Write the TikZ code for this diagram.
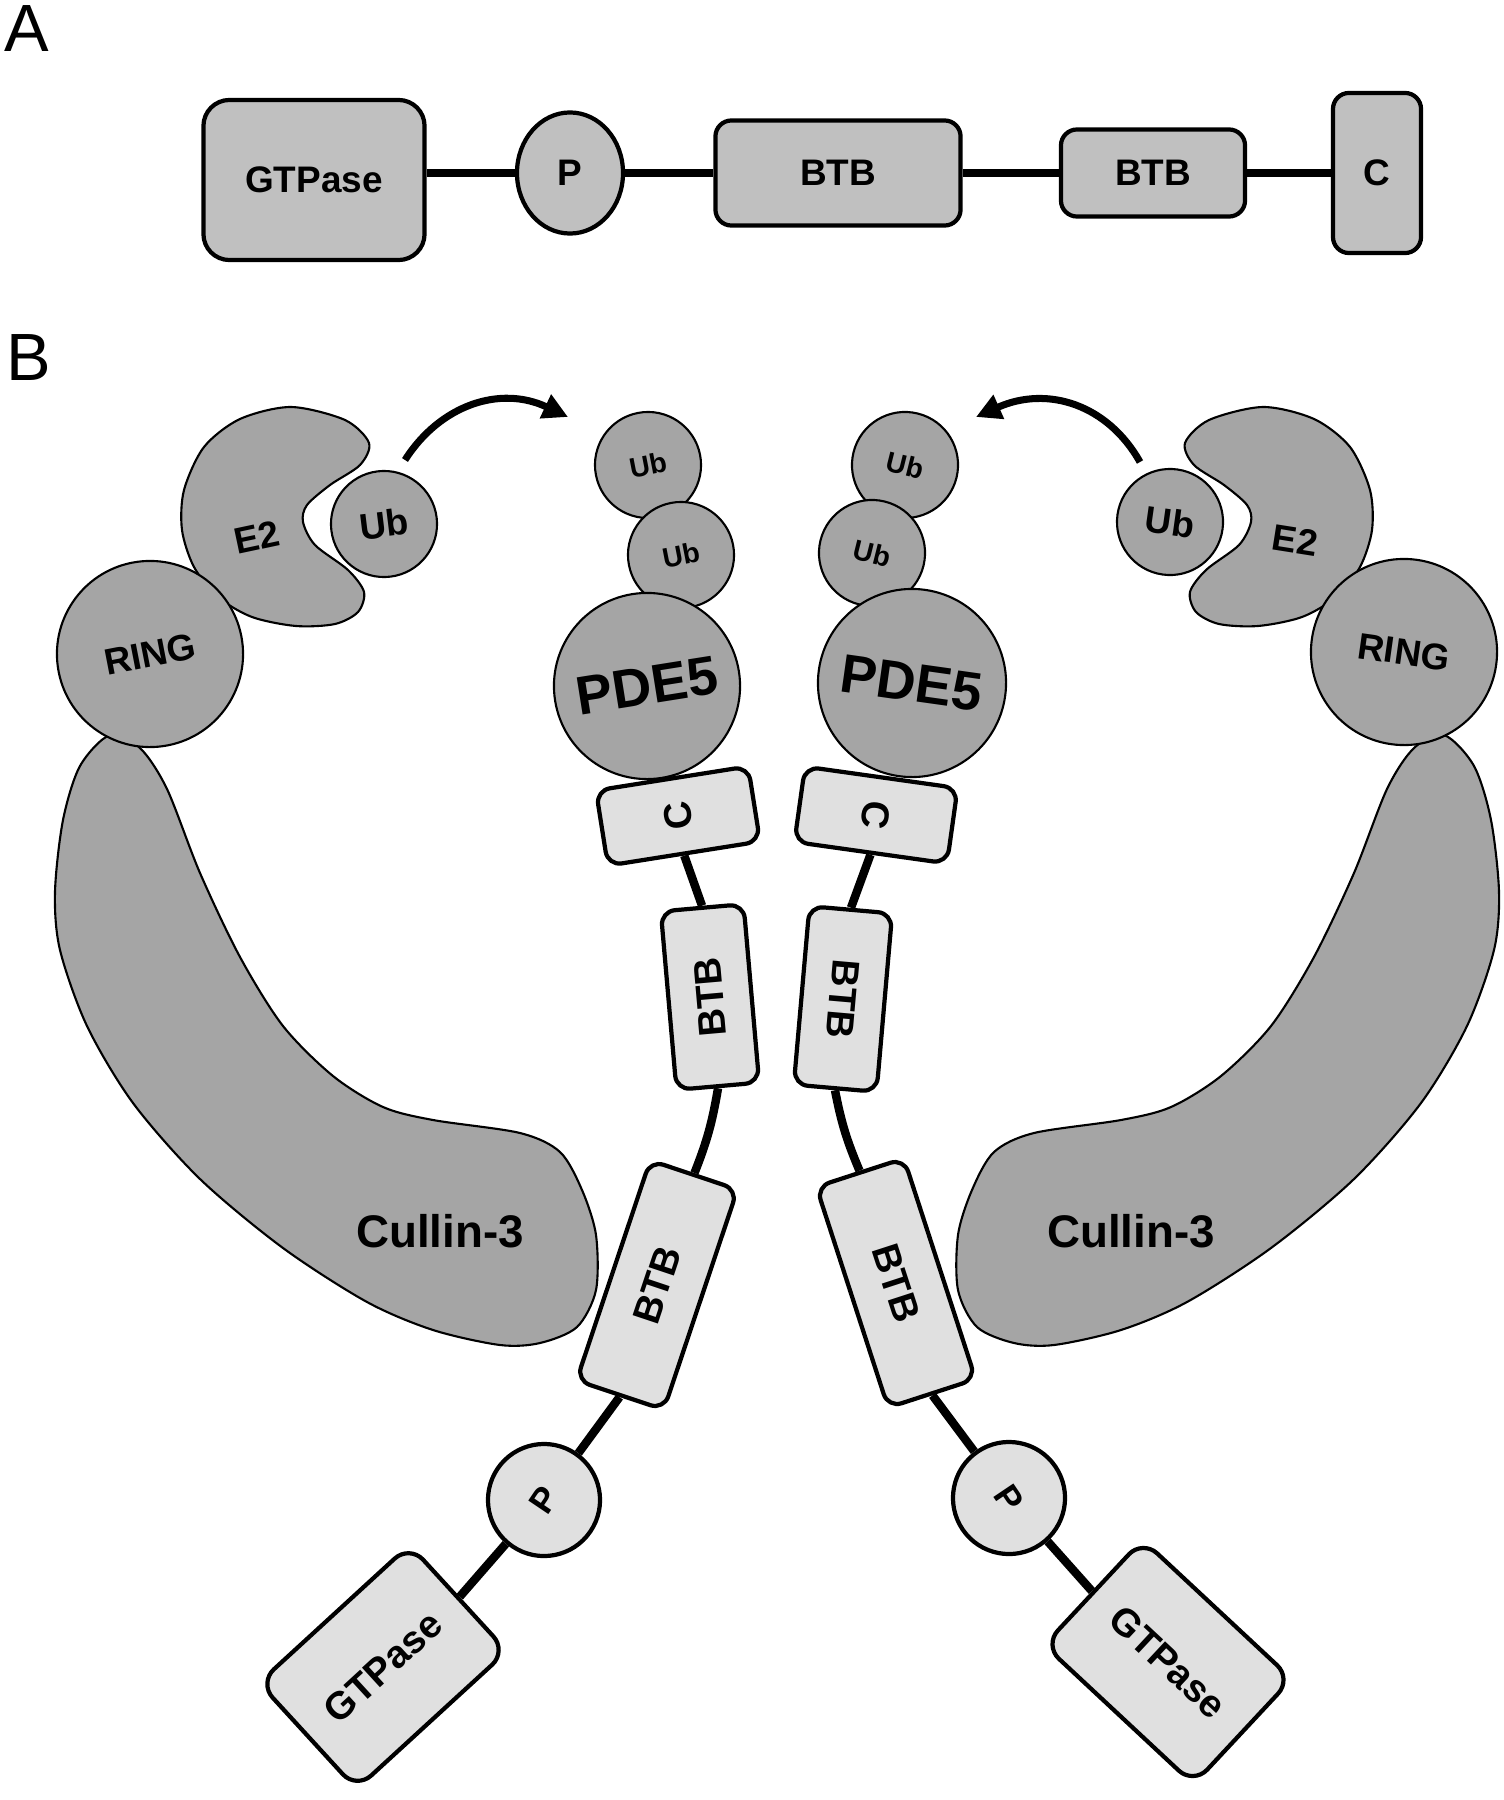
\documentclass[tikz,border=0pt]{standalone}
\usepackage{fontspec}
\setmainfont{Liberation Sans}
\usetikzlibrary{shapes.geometric,arrows.meta}

\definecolor{domfillA}{RGB}{192,192,192}
\definecolor{domfillB}{RGB}{224,224,224}
\definecolor{protgray}{RGB}{165,165,165}

\tikzset{
  domA/.style={draw, line width=1.2pt, fill=domfillA, rounded corners=1.6mm,
    inner sep=0pt, font=\bfseries\fontsize{10.5}{12}\selectfont},
  domB/.style={draw, line width=1.2pt, fill=domfillB, rounded corners=1.4mm,
    inner sep=0pt, font=\bfseries\fontsize{11}{13}\selectfont},
  blob/.style={draw, line width=0.6pt, fill=protgray},
  ball/.style={blob, circle, inner sep=0pt, font=\bfseries\fontsize{10.5}{12}\selectfont},
  link/.style={line width=2.4pt},
  panel/.style={font=\fontsize{19}{22}\selectfont},
  cullin/.pic={
    \draw[blob] plot[smooth cycle] coordinates {
      (110,735) (140,748) (167,789) (200,873) (240,957) (283,1026) (333,1076)
      (383,1107) (433,1120) (520,1133) (560,1152) (582,1190) (596,1235)
      (596,1290) (577,1327) (540,1343) (500,1345) (433,1330) (367,1302)
      (283,1248) (200,1179) (133,1103) (87,1026) (60,950) (55,892) (63,820) (80,766)};
  },
  etwo/.pic={
    \draw[blob] plot[smooth cycle] coordinates {
      (291,407) (345,420) (369,443) (360,465) (330,485) (307,505) (303,522)
      (315,545) (348,570) (364,592) (358,612) (335,624) (296,626) (252,617)
      (218,597) (194,567) (182,530) (184,490) (204,447) (240,419)};
  },
}

\begin{document}
\begin{tikzpicture}[x=0.01cm, y=-0.01cm]
\useasboundingbox (0,0) rectangle (1504,1800);

% panel A: domain layout
\node[panel] (labA) at (27,29) {A};
\node[domA, rounded corners=2.6mm, minimum width=22.1mm, minimum height=16mm] (gtpA) at (314,180) {GTPase};
\node[domA, ellipse, minimum width=10.6mm, minimum height=12.1mm] (pA) at (570,173) {P};
\node[domA, minimum width=24.5mm, minimum height=10.5mm] (btbA1) at (838,173) {BTB};
\node[domA, minimum width=18.4mm, minimum height=8.7mm] (btbA2) at (1153,173) {BTB};
\node[domA, minimum width=8.8mm, minimum height=16mm] (cA) at (1377,173) {C};
\draw[link] (pA.west) -- (pA.west -| gtpA.east)
  (pA) -- (btbA1) (btbA1) -- (btbA2) (btbA2) -- (cA);

% panel B: the complex
\node[panel] (labB) at (29,358) {B};
\pic at (0,0) {cullin};
\pic[xscale=-1] at (1554,0) {cullin};
\pic at (0,0) {etwo};
\pic[xscale=-1] at (1554,0) {etwo};
\node[font=\bfseries\fontsize{13}{15}\selectfont] (culL) at (440,1231) {Cullin-3};
\node[font=\bfseries\fontsize{13}{15}\selectfont] (culR) at (1131,1231) {Cullin-3};
\node[font=\bfseries\fontsize{10.5}{12}\selectfont, rotate=12] (e2L) at (257,537) {E2};
\node[font=\bfseries\fontsize{10.5}{12}\selectfont, rotate=-9] (e2R) at (1295,540) {E2};
\node[ball, minimum size=18.6mm, rotate=11] (ringL) at (150,654) {RING};
\node[ball, minimum size=18.6mm, rotate=-8] (ringR) at (1404,652) {RING};
\node[ball, minimum size=10.6mm, rotate=7] (ubL) at (384,524) {Ub};
\node[ball, minimum size=10.6mm, rotate=-8] (ubR) at (1170,522) {Ub};

% ubiquitin chains on PDE5
\node[ball, minimum size=10.6mm, rotate=11, font=\bfseries\fontsize{8}{9}\selectfont] (ubL1) at (648,465) {Ub};
\node[ball, minimum size=10.6mm, rotate=11, font=\bfseries\fontsize{8}{9}\selectfont] (ubL2) at (681,555) {Ub};
\node[ball, minimum size=18.6mm, rotate=9, font=\bfseries\fontsize{15.5}{18}\selectfont] (pdeL) at (647,686) {PDE5};
\node[ball, minimum size=10.6mm, rotate=-14, font=\bfseries\fontsize{8}{9}\selectfont] (ubR1) at (905,465) {Ub};
\node[ball, minimum size=10.6mm, rotate=-14, font=\bfseries\fontsize{8}{9}\selectfont] (ubR2) at (872,553) {Ub};
\node[ball, minimum size=18.8mm, rotate=-8, font=\bfseries\fontsize{15.5}{18}\selectfont] (pdeR) at (912,683) {PDE5};

% transfer arrows
\coordinate (arLa) at (405,460);
\coordinate (arLb) at (568,417);
\draw[line width=2pt, -{Triangle[length=2.5mm,width=2.5mm]}] (arLa) .. controls (440,405) and (500,385) .. (arLb);
\coordinate (arRa) at (1140,462);
\coordinate (arRb) at (976,417);
\draw[line width=2pt, -{Triangle[length=2.5mm,width=2.5mm]}] (arRa) .. controls (1108,405) and (1048,385) .. (arRb);

% left chain
\node[domB, minimum width=7.6mm, minimum height=15.4mm, rotate=99] (cL) at (678,816) {C};
\node[domB, minimum width=17.9mm, minimum height=8.3mm, rotate=95] (btbL1) at (710,997) {BTB};
\node[domB, minimum width=23.2mm, minimum height=9.2mm, rotate=71.5] (btbL2) at (657,1285) {BTB};
\node[domB, circle, minimum size=11.2mm, rotate=56, font=\bfseries\fontsize{10}{12}\selectfont] (pL) at (544,1500) {P};
\node[domB, rounded corners=2mm, minimum width=20.4mm, minimum height=14.4mm, rotate=42.5] (gtpL) at (383,1667) {GTPase};
\draw[link] (cL.west) -- (btbL1.east);
\draw[link] (btbL1.west) to[bend left=6] (btbL2.east);
\draw[link] (btbL2.west) -- (pL);
\draw[link] (pL) -- (gtpL.east);

% right chain
\node[domB, minimum width=7.6mm, minimum height=15.4mm, rotate=-98] (cR) at (876,815) {C};
\node[domB, minimum width=17.9mm, minimum height=8.3mm, rotate=-95] (btbR1) at (843,999) {BTB};
\node[domB, minimum width=23.2mm, minimum height=9.2mm, rotate=-72] (btbR2) at (896,1283) {BTB};
\node[domB, circle, minimum size=11.2mm, rotate=-56, font=\bfseries\fontsize{10}{12}\selectfont] (pR) at (1009,1498) {P};
\node[domB, rounded corners=2mm, minimum width=20.4mm, minimum height=14.4mm, rotate=-43] (gtpR) at (1168,1662) {GTPase};
\draw[link] (cR.east) -- (btbR1.west);
\draw[link] (btbR1.east) to[bend right=6] (btbR2.west);
\draw[link] (btbR2.east) -- (pR);
\draw[link] (pR) -- (gtpR.west);
\end{tikzpicture}
\end{document}
